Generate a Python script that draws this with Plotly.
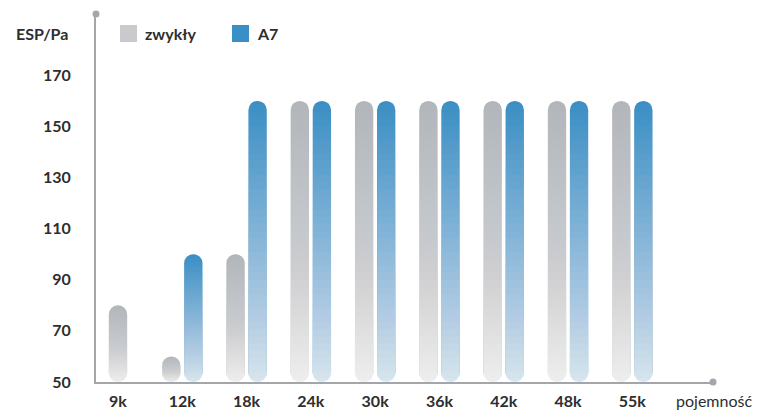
import plotly.graph_objects as go

# ---- data ----
categories = ["9k", "12k", "18k", "24k", "30k", "36k", "42k", "48k", "55k"]
zwykly = [80, 60, 100, 160, 160, 160, 160, 160, 160]
a7 = [None, 100, 160, 160, 160, 160, 160, 160, 160]
y_ticks = [50, 70, 90, 110, 130, 150, 170]
series_names = ["zwykły", "A7"]

# ---- style ----
BASE = 50
FONT = "Lato"
TXT = "#2e2e2e"
GRAY_TOP = "#b2b5b9"
BLUE_TOP = "#3b8ec4"
AXIS = "#a3a7ab"
BAR_W = 0.285
GAP = 0.058
N_SEG = 40
WHITE_MAX = 0.83

xi = list(range(len(categories)))

fig = go.Figure()


def add_series(vals, color, side, name):
    pts = [(x, v) for x, v in zip(xi, vals) if v is not None]
    xs = [p[0] for p in pts]
    vs = [p[1] for p in pts]
    offs = []
    for x in xs:
        paired = zwykly[x] is not None and a7[x] is not None
        if not paired:
            offs.append(-BAR_W / 2)
        elif side == "left":
            offs.append(-BAR_W - GAP / 2)
        else:
            offs.append(GAP / 2)
    # full rounded bar in the top colour
    fig.add_trace(go.Bar(
        x=xs, y=[v - BASE for v in vs], base=BASE, width=BAR_W, offset=offs,
        marker=dict(color=color, cornerradius="50%", line=dict(width=0)),
        name=name, showlegend=False, hoverinfo="skip"))
    # cumulative white overlays from the bottom, building a vertical gradient
    t_prev = 1.0
    for k in range(1, N_SEG + 1):
        frac_top = k / N_SEG
        w = WHITE_MAX * frac_top
        t_now = 1.0 - w
        alpha = 1.0 - t_now / t_prev
        t_prev = t_now
        hts = [(v - BASE) * (1 - frac_top + 0.5 / N_SEG) for v in vs]
        fig.add_trace(go.Bar(
            x=xs, y=hts, base=BASE, width=BAR_W, offset=offs,
            marker=dict(color=f"rgba(255,255,255,{alpha:.4f})", line=dict(width=0)),
            showlegend=False, hoverinfo="skip"))


add_series(zwykly, GRAY_TOP, "left", series_names[0])
add_series(a7, BLUE_TOP, "right", series_names[1])

fig.update_layout(
    width=776, height=410,
    margin=dict(l=96, r=63, t=14, b=28, autoexpand=False),
    paper_bgcolor="white", plot_bgcolor="white",
    barmode="overlay",
    showlegend=False,
    font=dict(family=FONT, color=TXT),
    xaxis=dict(
        range=[-0.342, 9.255],
        tickmode="array", tickvals=xi, ticktext=categories,
        tickfont=dict(family=FONT, size=16, color=TXT, weight="bold"),
        showgrid=False, zeroline=False,
        showline=True, linecolor=AXIS, linewidth=2,
        ticks="", ticklabelstandoff=4, automargin=False,
        fixedrange=True,
    ),
    yaxis=dict(
        range=[BASE, 194.0],
        tickmode="array", tickvals=y_ticks,
        tickfont=dict(family=FONT, size=16, color=TXT, weight="bold"),
        showgrid=False, zeroline=False,
        showline=True, linecolor=AXIS, linewidth=2,
        ticks="", ticklabelstandoff=20, automargin=False,
        fixedrange=True,
    ),
    shapes=[
        dict(type="circle", xref="paper", yref="paper", xsizemode="pixel", ysizemode="pixel",
             xanchor=0, yanchor=1, x0=-3.5, x1=3.5, y0=-3.5, y1=3.5,
             fillcolor=AXIS, line=dict(width=0)),
        dict(type="circle", xref="paper", yref="paper", xsizemode="pixel", ysizemode="pixel",
             xanchor=1, yanchor=0, x0=-3.5, x1=3.5, y0=-3.5, y1=3.5,
             fillcolor=AXIS, line=dict(width=0)),
        # legend swatches
        dict(type="rect", xref="paper", yref="paper", xsizemode="pixel", ysizemode="pixel",
             xanchor=0, yanchor=1, x0=24, x1=41, y0=-11, y1=-28,
             fillcolor="#c8cacd", line=dict(width=0)),
        dict(type="rect", xref="paper", yref="paper", xsizemode="pixel", ysizemode="pixel",
             xanchor=0, yanchor=1, x0=136, x1=153, y0=-11, y1=-28,
             fillcolor="#3a8fc6", line=dict(width=0)),
    ],
    annotations=[
        dict(text="ESP/Pa", xref="paper", yref="paper", x=-0.042, y=0.948,
             xanchor="right", yanchor="middle", showarrow=False,
             font=dict(family=FONT, size=16, color=TXT, weight="bold")),
        dict(text=series_names[0], xref="paper", yref="paper", x=0.0762, y=0.948,
             xanchor="left", yanchor="middle", showarrow=False,
             font=dict(family=FONT, size=16, color=TXT, weight="bold")),
        dict(text=series_names[1], xref="paper", yref="paper", x=0.2577, y=0.948,
             xanchor="left", yanchor="middle", showarrow=False,
             font=dict(family=FONT, size=16, color=TXT, weight="bold")),
        dict(text="pojemność", xref="paper", yref="paper", x=0.9368, y=-0.049,
             xanchor="left", yanchor="middle", showarrow=False,
             font=dict(family=FONT, size=16, color=TXT)),
    ],
)

fig.write_html(
    "out.html",
    config={"displayModeBar": False},
    post_script="document.body.style.margin='0';document.body.style.overflow='hidden';",
)
